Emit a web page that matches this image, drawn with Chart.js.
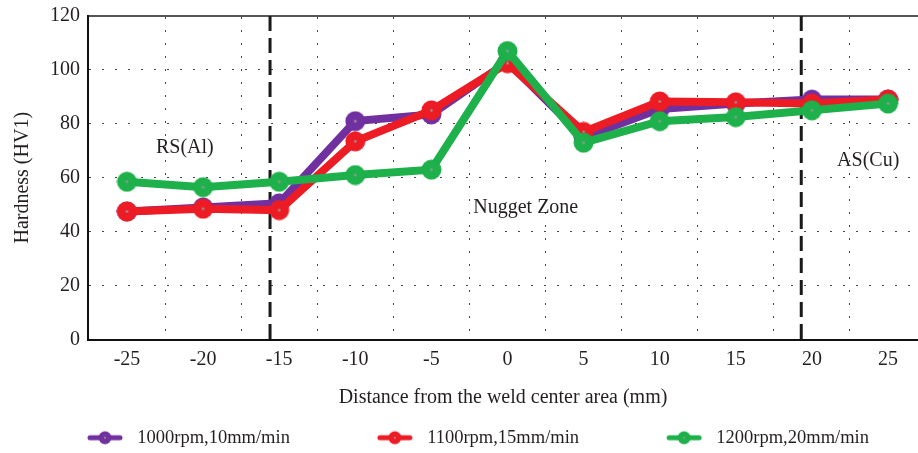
<!DOCTYPE html>
<html>
<head>
<meta charset="utf-8">
<script src="https://cdn.jsdelivr.net/npm/chart.js@4.4.1/dist/chart.umd.min.js"></script>
<style>
    body { margin: 0; background: #fff; overflow: hidden; }
    #wrap { width: 918px; height: 453px; }
</style>
</head>
<body>
<div id="wrap"><canvas id="hardnessChart"></canvas></div>
<script>
// values
const distances = [-25, -20, -15, -10, -5, 0, 5, 10, 15, 20, 25];
const hardness1000 = [47.5, 49, 50.5, 81, 83.5, 103, 75, 85.5, 87.5, 89, 89];
const hardness1100 = [47.5, 48.5, 48, 73.5, 85, 102.5, 77, 88.3, 88, 87.5, 89];
const hardness1200 = [58.5, 56.5, 58.5, 61, 63, 107, 73, 81, 82.5, 85, 87.5];
const seriesNames = ['1000rpm,10mm/min', '1100rpm,15mm/min', '1200rpm,20mm/min'];
const yTicks = [0, 20, 40, 60, 80, 100, 120];
const gridMarks = [-22.5, -17.5, -12.5, -7.5, -2.5, 2.5, 7.5, 12.5, 17.5, 22.5];
const zoneBounds = [-15.6, 19.3];
const zoneNames = ['RS(Al)', 'Nugget Zone', 'AS(Cu)'];

const colors = ['#7030a0', '#ed1c24', '#1db04b'];
const textColor = '#231f20';
const serif = '"Liberation Serif", "Times New Roman", serif';

Chart.defaults.font.family = serif;
Chart.defaults.font.size = 20;
Chart.defaults.color = textColor;

function makeDot(color) {
    const c = document.createElement('canvas');
    c.width = 21;
    c.height = 21;
    const g = c.getContext('2d');
    g.fillStyle = color;
    g.beginPath();
    g.arc(10.5, 10.5, 10, 0, Math.PI * 2);
    g.fill();
    g.fillStyle = '#9a9a9a';
    g.beginPath();
    g.arc(10.5, 10.5, 1.3, 0, Math.PI * 2);
    g.fill();
    return c;
}

// legend marker: short thick line with a dot, sitting at the right end of a wide box
function makeLegendIcon(color) {
    const c = document.createElement('canvas');
    c.width = 128;
    c.height = 20;
    const g = c.getContext('2d');
    g.strokeStyle = color;
    g.lineWidth = 5;
    g.lineCap = 'round';
    g.beginPath();
    g.moveTo(90, 10);
    g.lineTo(120, 10);
    g.stroke();
    g.fillStyle = color;
    g.beginPath();
    g.arc(105, 10, 6.5, 0, Math.PI * 2);
    g.fill();
    g.fillStyle = '#9a9a9a';
    g.beginPath();
    g.arc(105, 10, 1, 0, Math.PI * 2);
    g.fill();
    return c;
}

const legendIcons = colors.map(makeLegendIcon);

function toPoints(values) {
    return distances.map((d, i) => ({ x: d, y: values[i] }));
}

const zonePlugin = {
    id: 'zones',
    beforeDatasetsDraw(chart) {
        const { ctx, chartArea, scales: { x, y } } = chart;
        ctx.save();
        ctx.strokeStyle = '#1a1a1a';
        ctx.lineWidth = 3;
        ctx.setLineDash([15, 7]);
        zoneBounds.forEach(v => {
            const px = x.getPixelForValue(v);
            ctx.beginPath();
            ctx.moveTo(px, chartArea.top);
            ctx.lineTo(px, chartArea.bottom);
            ctx.stroke();
        });
        ctx.setLineDash([]);

        const spots = [[-21.2, 71], [1.2, 49], [23.7, 66.2]];
        ctx.font = '20px ' + serif;
        ctx.fillStyle = textColor;
        ctx.textAlign = 'center';
        ctx.textBaseline = 'middle';
        zoneNames.forEach((name, i) => {
            ctx.fillText(name, x.getPixelForValue(spots[i][0]), y.getPixelForValue(spots[i][1]));
        });
        ctx.restore();
    }
};

const ctx = document.getElementById('hardnessChart').getContext('2d');
new Chart(ctx, {
    type: 'line',
    data: {
        datasets: [hardness1000, hardness1100, hardness1200].map((vals, i) => ({
            label: seriesNames[i],
            data: toPoints(vals),
            xAxisID: 'x',
            borderColor: colors[i],
            backgroundColor: colors[i],
            borderWidth: 8,
            tension: 0,
            pointStyle: makeDot(colors[i]),
            pointRadius: 10,
            order: 3 - i
        }))
    },
    options: {
        responsive: true,
        maintainAspectRatio: false,
        animation: false,
        events: [],
        layout: { autoPadding: false, padding: { top: 16, right: 0, bottom: -4, left: 0 } },
        scales: {
            x: {
                type: 'linear',
                min: -27.56,
                max: 26.97,
                afterBuildTicks: s => { s.ticks = distances.map(v => ({ value: v })); },
                afterFit: s => {
                    s.height = 89;
                    s.paddingLeft = 0;
                    s.paddingRight = 0;
                },
                grid: { display: false, drawTicks: false },
                border: { color: '#111', width: 2 },
                ticks: { padding: 8, color: textColor },
                title: {
                    display: true,
                    text: 'Distance from the weld center area (mm)',
                    color: textColor,
                    padding: { top: 0, bottom: 19 }
                }
            },
            xg: {
                type: 'linear',
                position: 'top',
                min: -27.56,
                max: 26.97,
                afterBuildTicks: s => { s.ticks = gridMarks.map(v => ({ value: v })); },
                afterFit: s => {
                    s.height = 0;
                    s.paddingLeft = 0;
                    s.paddingRight = 0;
                },
                ticks: { display: false },
                grid: { color: '#444', lineWidth: 1, drawTicks: false },
                border: { color: '#555', width: 2, dash: [2, 11] }
            },
            y: {
                min: 0,
                max: 120,
                afterBuildTicks: s => { s.ticks = yTicks.map(v => ({ value: v })); },
                afterFit: s => {
                    s.width = 88;
                    s.paddingTop = 0;
                    s.paddingBottom = 0;
                },
                grid: { color: '#444', lineWidth: 1, drawTicks: false },
                border: { color: '#111', width: 2, dash: [2, 11] },
                ticks: { padding: 8, color: textColor },
                title: {
                    display: true,
                    text: 'Hardness (HV1)',
                    color: textColor,
                    padding: { top: 11, bottom: 0 }
                }
            }
        },
        plugins: {
            tooltip: { enabled: false },
            legend: {
                position: 'bottom',
                align: 'start',
                labels: {
                    usePointStyle: true,
                    pointStyleWidth: 128,
                    padding: 0,
                    color: textColor,
                    font: { size: 18.5 },
                    generateLabels: chart => chart.data.datasets.map((ds, i) => ({
                        text: ds.label,
                        pointStyle: legendIcons[i],
                        fillStyle: ds.borderColor,
                        strokeStyle: ds.borderColor,
                        lineWidth: 0,
                        hidden: false,
                        datasetIndex: i,
                        fontColor: textColor
                    }))
                }
            }
        }
    },
    plugins: [zonePlugin]
});
</script>
</body>
</html>
